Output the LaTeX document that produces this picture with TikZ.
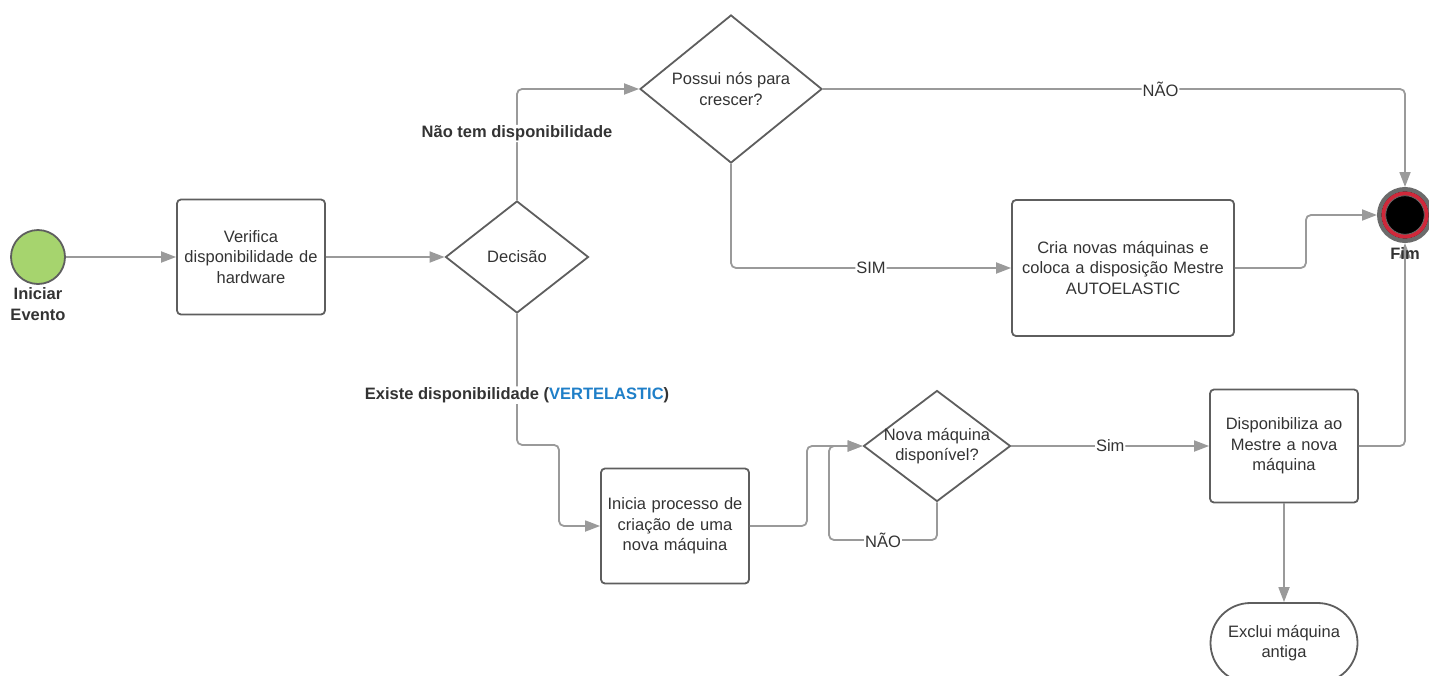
\documentclass[tikz,border=0pt]{standalone}
\usepackage{fontspec}
\setmainfont{Liberation Sans}
\usetikzlibrary{shapes.geometric,arrows.meta}
\definecolor{linegray}{HTML}{9A9A9A}
\definecolor{bordergray}{HTML}{5E5E5E}
\definecolor{ringgray}{HTML}{6B6B6B}
\definecolor{txt}{HTML}{333333}
\definecolor{startgreen}{HTML}{A6D46E}
\definecolor{fimred}{HTML}{D0283A}
\definecolor{vblue}{HTML}{1F7FC8}
\begin{document}
\begin{tikzpicture}[x=1pt,y=-1pt,>={Triangle[length=15pt,width=11pt]},
every node/.style={text=txt,font=\fontsize{16.5}{20.5}\selectfont},
box/.style={draw=bordergray,line width=1.8pt,rounded corners=4pt,minimum width=148pt,minimum height=115pt,text width=142pt,align=center,inner sep=0pt},
dia/.style={draw=bordergray,line width=1.8pt,diamond,align=center,inner sep=0pt},
flow/.style={draw=linegray,line width=1.8pt,rounded corners=5pt},
lbl/.style={fill=white,inner sep=1pt,font=\bfseries\fontsize{16.5}{20.5}\selectfont},
cond/.style={fill=white,inner sep=1pt}]
\useasboundingbox (0,0) rectangle (1429,675);
\node[circle,draw=bordergray,line width=1.8pt,fill=startgreen,minimum size=54pt] (start) at (38,257) {};
\node[box] (verif) at (251,257) {Verifica\\disponibilidade de\\hardware};
\node[dia,aspect=1.28,minimum width=143pt,minimum height=112pt] (dec) at (517,257) {Decisão};
\node[dia,aspect=1.23,inner sep=-4pt,minimum width=182pt,minimum height=148pt] (possui) at (731,89) {Possui nós para\\crescer?};
\node[box,minimum width=222pt,minimum height=136pt,text width=214pt] (cria) at (1123,268) {Cria novas máquinas e\\coloca a disposição Mestre\\AUTOELASTIC};
\node[box] (inicia) at (675,526) {Inicia processo de\\criação de uma\\nova máquina};
\node[dia,aspect=1.32,inner sep=-8pt,minimum width=147pt,minimum height=111pt] (nova) at (937,446) {Nova máquina\\disponível?};
\node[box,minimum height=113pt] (disp) at (1284,446) {Disponibiliza ao\\Mestre a nova\\máquina};
\node[draw=bordergray,line width=1.8pt,rounded corners=40pt,minimum width=147pt,minimum height=80pt,align=center] (exclui) at (1284,643) {Exclui máquina\\antiga};
\node[circle,draw=ringgray,line width=4.5pt,fill=black,minimum size=51.5pt] (fim) at (1405,215) {};
\draw[fimred,line width=4pt] (fim.center) circle (21.5);
\draw[ringgray,line width=0.8pt] (fim.center) circle (19.3);
\coordinate (loop) at (829,540);
\draw[flow,->] (start) -- (verif);
\draw[flow,->] (verif) -- (dec);
\draw[flow,->] (dec.north) |- node[lbl,pos=0.3]{Não tem disponibilidade} (possui.west);
\draw[flow,->] (dec.south) |- node[lbl,pos=0.31]{Existe disponibilidade ({\color{vblue}VERTELASTIC})} ++(42,131) |- (inicia.west);
\draw[flow,->] (possui.east) -| node[cond,pos=0.29]{NÃO} (fim.north);
\draw[flow,->] (possui.south) |- node[cond,pos=0.75]{SIM} (cria.west);
\draw[flow,->] (cria.east) -- ++(71,0) |- (fim.west);
\draw[flow,->] (inicia.east) -- ++(57,0) |- (nova.west);
\draw[flow,->] (nova.south) |- node[cond,pos=0.75]{NÃO} (loop) |- (nova.west);
\draw[flow,->] (nova) -- node[cond]{Sim} (disp);
\draw[flow,->] (disp.east) -| (fim.south);
\draw[flow,->] (disp) -- (exclui);
\node[lbl,fill=none,align=center] (startlbl) at (38,304) {Iniciar\\Evento};
\node[lbl,fill=none] (fimlbl) at (1405,254) {Fim};
\end{tikzpicture}
\end{document}
